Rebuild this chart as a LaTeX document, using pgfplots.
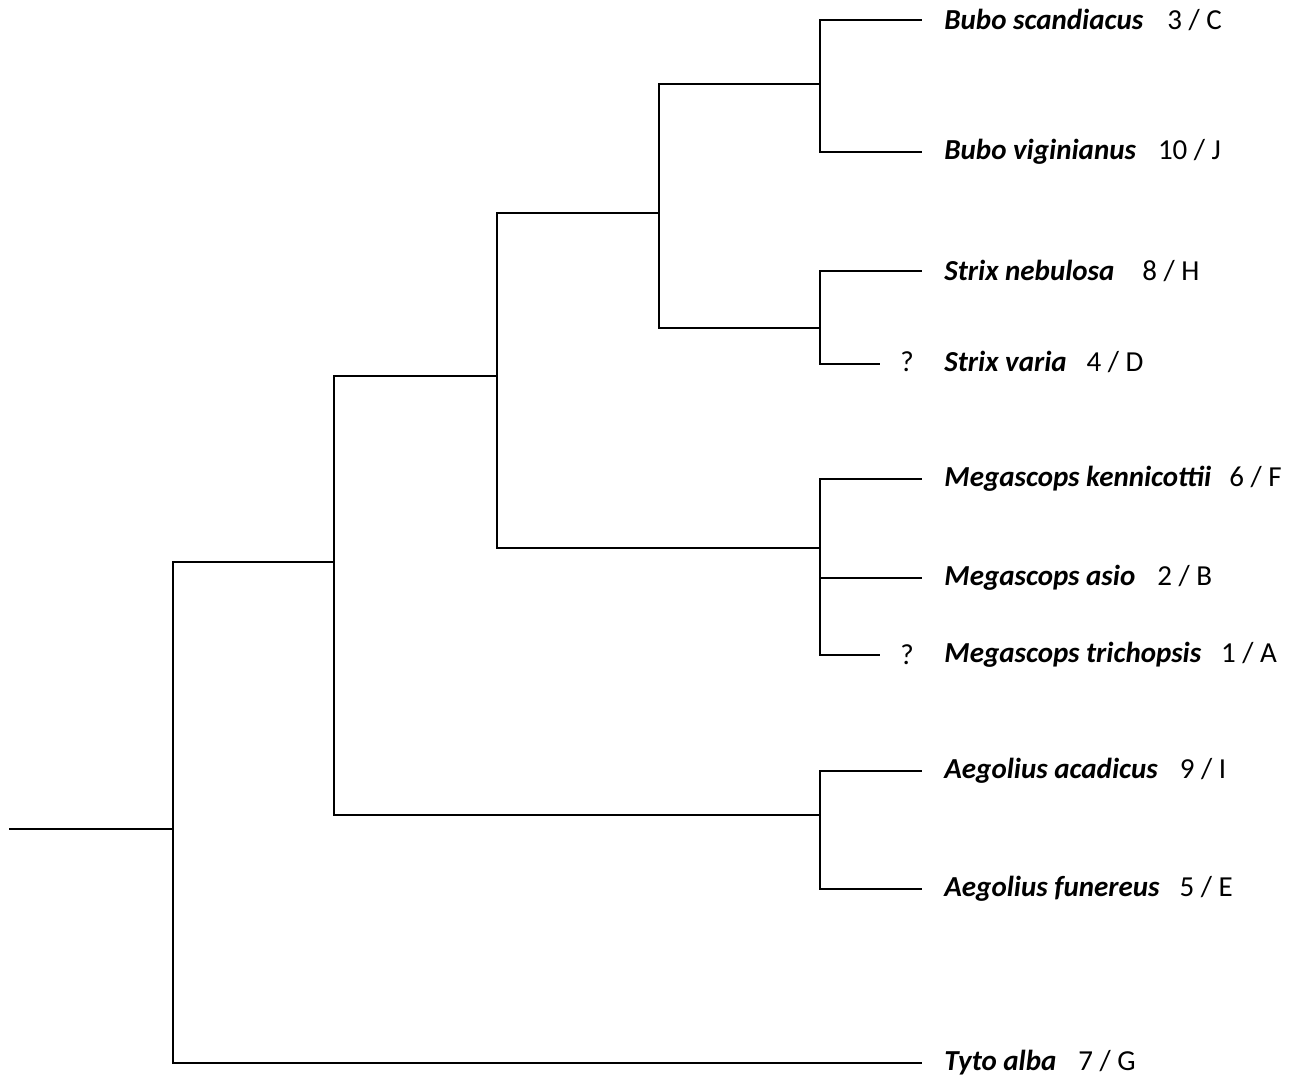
\documentclass[border=0pt]{standalone}
\usepackage{pgfplots}
\pgfplotsset{compat=1.18}
\usepackage{fontspec}
\setmainfont{Carlito}
\newcommand{\spn}[1]{{\bfseries\itshape #1}}
\begin{document}
\begin{tikzpicture}
\begin{axis}[
  scale only axis, width=652pt, height=539pt,
  xmin=0, xmax=1304, ymin=0, ymax=1078, y dir=reverse,
  hide axis, clip=false,
  br/.style={black, solid, line width=1pt, line join=miter, line cap=rect, mark=none},
]
\path[draw=none] (axis cs:0,0) rectangle (axis cs:1304,1078);
% root
\addplot[br] coordinates {(10,829) (173,829)};
% node at 173
\addplot[br] coordinates {(334,562) (173,562) (173,1063) (921,1063)};
% node at 334
\addplot[br] coordinates {(497,376) (334,376) (334,815) (820,815)};
% node at 497
\addplot[br] coordinates {(659,213) (497,213) (497,548) (820,548)};
% node at 659
\addplot[br] coordinates {(820,84) (659,84) (659,328) (820,328)};
% Bubo
\addplot[br] coordinates {(921,20) (820,20) (820,152) (921,152)};
% Strix
\addplot[br] coordinates {(921,271) (820,271) (820,364) (879,364)};
% Megascops
\addplot[br] coordinates {(921,479) (820,479) (820,655) (879,655)};
\addplot[br] coordinates {(820,578) (921,578)};
% Aegolius
\addplot[br] coordinates {(921,771) (820,771) (820,889) (921,889)};

\tikzset{lab/.style={anchor=west, inner sep=0pt, font=\fontsize{14.5pt}{17pt}\selectfont}}
\node[lab] at (axis cs:944,20)  {\spn{Bubo scandiacus}\hspace{12pt}3 / C};
\node[lab] at (axis cs:944,152) {\spn{Bubo viginianus}\hspace{11pt}10 / J};
\node[lab] at (axis cs:944,271) {\spn{Strix nebulosa}\hspace{14pt}8 / H};
\node[lab] at (axis cs:944,362) {\spn{Strix varia}\hspace{10pt}4 / D};
\node[lab] at (axis cs:944,479) {\spn{Megascops kennicottii}\hspace{9pt}6 / F};
\node[lab] at (axis cs:944,578) {\spn{Megascops asio}\hspace{11pt}2 / B};
\node[lab] at (axis cs:944,655) {\spn{Megascops trichopsis}\hspace{10pt}1 / A};
\node[lab] at (axis cs:944,771) {\spn{Aegolius acadicus}\hspace{11pt}9 / I};
\node[lab] at (axis cs:944,889) {\spn{Aegolius funereus}\hspace{10pt}5 / E};
\node[lab] at (axis cs:944,1063) {\spn{Tyto alba}\hspace{11pt}7 / G};
\node[lab, anchor=center] at (axis cs:907,362) {?};
\node[lab, anchor=center] at (axis cs:907,655) {?};
\end{axis}
\end{tikzpicture}
\end{document}
